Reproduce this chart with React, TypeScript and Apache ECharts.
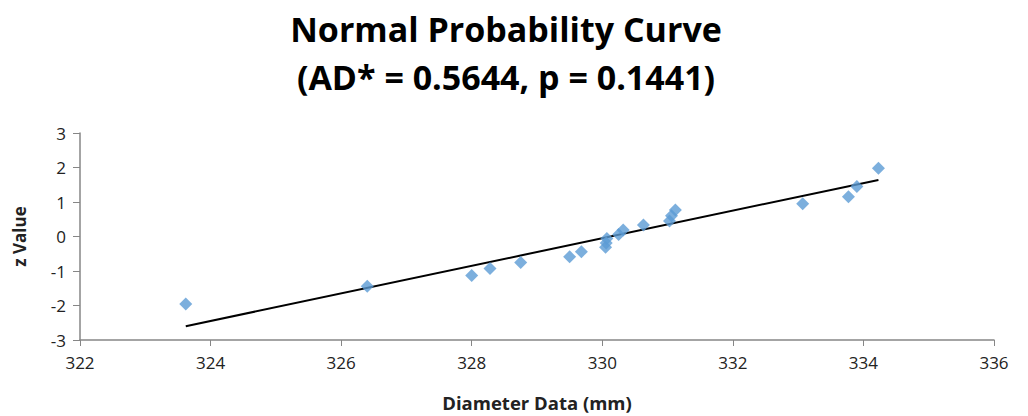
import React, { useEffect, useRef } from "react";
import * as echarts from "echarts";

const diameters = [323.62, 326.4, 328.0, 328.28, 328.75, 329.5, 329.68, 330.05, 330.06, 330.07, 330.25, 330.32, 330.63, 331.03, 331.06, 331.12, 333.07, 333.77, 333.9, 334.23];
const zValues = [-1.96, -1.44, -1.13, -0.93, -0.75, -0.59, -0.44, -0.31, -0.19, -0.06, 0.06, 0.19, 0.33, 0.45, 0.6, 0.77, 0.95, 1.15, 1.45, 1.98];
const fitX = [323.62, 334.23];
const fitZ = [-2.6, 1.64];
const titleText = "Normal Probability Curve\n(AD* = 0.5644, p = 0.1441)";

const FONT = "Open Sans";

export default function App() {
  const ref = useRef<HTMLDivElement>(null);
  useEffect(() => {
    const chart = echarts.init(ref.current!, null, { renderer: "svg" });
    chart.setOption({
      animation: false,
      backgroundColor: "#fff",
      graphic: [
        {
          type: "text",
          x: 506,
          y: 53,
          style: {
            text: titleText,
            fontFamily: FONT,
            fontSize: 34,
            fontWeight: "bold",
            fill: "#000",
            lineHeight: 48,
            align: "center",
            verticalAlign: "middle",
          },
        },
      ],
      grid: { left: 80, right: 34, top: 133, bottom: 76, outerBoundsMode: "none", containLabel: false },
      xAxis: {
        type: "value",
        min: 322,
        max: 336,
        interval: 2,
        name: "Diameter Data (mm)",
        nameLocation: "middle",
        nameGap: 53,
        nameTextStyle: { fontFamily: FONT, fontSize: 18.5, fontWeight: "bold", color: "#222" },
        axisLine: { onZero: false, lineStyle: { color: "#868686", width: 1.5 } },
        axisTick: { show: true, length: 6, lineStyle: { color: "#868686" } },
        axisLabel: { fontFamily: FONT, fontSize: 17, color: "#222", margin: 14 },
        splitLine: { show: false },
      },
      yAxis: {
        type: "value",
        min: -3,
        max: 3,
        interval: 1,
        name: "z Value",
        nameLocation: "middle",
        nameGap: 52,
        nameRotate: 90,
        nameTextStyle: { fontFamily: FONT, fontSize: 17, fontWeight: "bold", color: "#222" },
        axisLine: { show: true, onZero: false, lineStyle: { color: "#868686", width: 1.5 } },
        axisTick: { show: true, length: 7, lineStyle: { color: "#868686" } },
        axisLabel: { fontFamily: FONT, fontSize: 17, color: "#222", margin: 14 },
        splitLine: { show: false },
      },
      series: [
        {
          type: "line",
          data: fitX.map((x, i) => [x, fitZ[i]]),
          symbol: "none",
          lineStyle: { color: "#000", width: 2 },
          z: 1,
        },
        {
          type: "scatter",
          data: diameters.map((x, i) => [x, zValues[i]]),
          symbol: "diamond",
          symbolSize: 13,
          itemStyle: { color: "#5B9BD5" },
          z: 2,
        },
      ],
    });
    return () => chart.dispose();
  }, []);
  return (
    <div
      ref={ref}
      style={{ position: "fixed", left: 0, top: 0, width: 1028, height: 416 }}
    />
  );
}
